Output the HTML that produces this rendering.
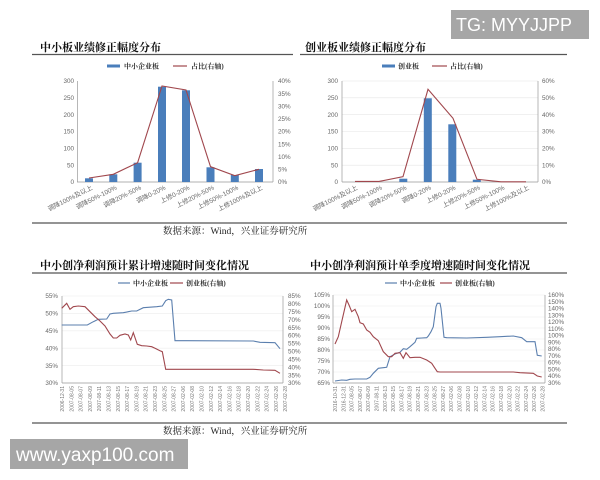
<!DOCTYPE html>
<html><head><meta charset="utf-8"><style>
html,body{margin:0;padding:0;background:#fff;}
svg{display:block;}
.t{font-family:"Liberation Serif","Noto Serif CJK SC",serif;font-weight:bold;font-size:11px;fill:#111;}
.lg{font-family:"Liberation Serif","Noto Serif CJK SC",serif;font-weight:bold;font-size:7px;fill:#333;}
.ax{font-family:"Liberation Sans","Noto Sans CJK SC",sans-serif;font-size:6.3px;fill:#666;}
.cat{font-family:"Liberation Sans","Noto Sans CJK SC",sans-serif;font-size:6.5px;fill:#666;text-anchor:end;}
.dt{font-family:"Liberation Sans",sans-serif;font-size:5px;fill:#777;text-anchor:end;}
.src{font-family:"Liberation Serif","Noto Serif CJK SC",serif;font-size:9.5px;fill:#222;}
</style></head><body>
<svg width="600" height="480" viewBox="0 0 600 480" xmlns="http://www.w3.org/2000/svg">
<rect width="600" height="480" fill="#fff"/>

<!-- ===== Titles & divider lines ===== -->
<text class="t" x="40" y="51">中小板业绩修正幅度分布</text>
<text class="t" x="305" y="51">创业板业绩修正幅度分布</text>
<line x1="32" y1="54.5" x2="293" y2="54.5" stroke="#555" stroke-width="1.3"/>
<line x1="300" y1="54.5" x2="567" y2="54.5" stroke="#555" stroke-width="1.3"/>
<line x1="32" y1="223" x2="567" y2="223" stroke="#555" stroke-width="1.3"/>
<text class="src" x="163" y="234">数据来源：Wind，兴业证券研究所</text>

<text class="t" x="40" y="269">中小创净利润预计累计增速随时间变化情况</text>
<text class="t" x="310" y="269">中小创净利润预计单季度增速随时间变化情况</text>
<line x1="32" y1="273" x2="300" y2="273" stroke="#555" stroke-width="1.3"/>
<line x1="300" y1="273" x2="567" y2="273" stroke="#555" stroke-width="1.3"/>
<line x1="32" y1="423" x2="567" y2="423" stroke="#555" stroke-width="1.3"/>
<text class="src" x="163" y="434">数据来源：Wind，兴业证券研究所</text>

<!-- ===== Chart 1 ===== -->
<rect x="107" y="64.5" width="13" height="3" fill="#4a7ebb"/>
<text class="lg" x="124" y="68.5">中小企业板</text>
<line x1="173" y1="66" x2="187" y2="66" stroke="#a0474d" stroke-width="1.2"/>
<text class="lg" x="191" y="68.5">占比(右轴)</text>

<g class="ax">
<text text-anchor="end" x="74" y="83.2">300</text><text text-anchor="end" x="74" y="100">250</text><text text-anchor="end" x="74" y="116.9">200</text>
<text text-anchor="end" x="74" y="133.7">150</text><text text-anchor="end" x="74" y="150.5">100</text><text text-anchor="end" x="74" y="167.4">50</text><text text-anchor="end" x="74" y="184.2">0</text>
</g>
<g class="ax">
<text x="278" y="83.2">40%</text><text x="278" y="95.8">35%</text><text x="278" y="108.5">30%</text>
<text x="278" y="121.1">25%</text><text x="278" y="133.7">20%</text><text x="278" y="146.3">15%</text>
<text x="278" y="159">10%</text><text x="278" y="171.6">5%</text><text x="278" y="184.2">0%</text>
</g>
<g stroke="#999" stroke-width="0.7">
<line x1="77.5" y1="81" x2="77.5" y2="182"/>
<line x1="273" y1="81" x2="273" y2="182"/>
<line x1="77" y1="182" x2="273" y2="182"/>
</g>
<g fill="#4a7ebb">
<rect x="85" y="178.3" width="8" height="3.7"/>
<rect x="109.3" y="174.3" width="8" height="7.7"/>
<rect x="133.6" y="162.7" width="8" height="19.3"/>
<rect x="158" y="86.7" width="8" height="95.3"/>
<rect x="182" y="90.3" width="8" height="91.7"/>
<rect x="206.5" y="167.3" width="8" height="14.7"/>
<rect x="230.8" y="175" width="8" height="7"/>
<rect x="255" y="169" width="8" height="13"/>
</g>
<polyline fill="none" stroke="#a0474d" stroke-width="1.1" points="89,178 113.3,174.3 137.6,162.7 162,86 186,90 210.5,166.7 234.8,175.7 259,169.3"/>
<g class="cat">
<text text-anchor="end" transform="translate(93,189) rotate(-27)">调降100%及以上</text>
<text text-anchor="end" transform="translate(117.3,189) rotate(-27)">调降50%-100%</text>
<text text-anchor="end" transform="translate(141.6,189) rotate(-27)">调降20%-50%</text>
<text text-anchor="end" transform="translate(166,189) rotate(-27)">调降0-20%</text>
<text text-anchor="end" transform="translate(190,189) rotate(-27)">上修0-20%</text>
<text text-anchor="end" transform="translate(214.5,189) rotate(-27)">上修20%-50%</text>
<text text-anchor="end" transform="translate(238.8,189) rotate(-27)">上修50%-100%</text>
<text text-anchor="end" transform="translate(263,189) rotate(-27)">上修100%及以上</text>
</g>

<!-- ===== Chart 2 ===== -->
<rect x="382" y="64.5" width="13" height="3" fill="#4a7ebb"/>
<text class="lg" x="398" y="68.5">创业板</text>
<line x1="432" y1="66" x2="447" y2="66" stroke="#a0474d" stroke-width="1.2"/>
<text class="lg" x="450" y="68.5">占比(右轴)</text>

<g stroke="#e6e6e6" stroke-width="0.6">
<line x1="342" y1="81" x2="538" y2="81"/><line x1="342" y1="97.8" x2="538" y2="97.8"/>
<line x1="342" y1="114.7" x2="538" y2="114.7"/><line x1="342" y1="131.5" x2="538" y2="131.5"/>
<line x1="342" y1="148.3" x2="538" y2="148.3"/><line x1="342" y1="165.2" x2="538" y2="165.2"/>
</g>
<g class="ax">
<text text-anchor="end" x="338" y="83.2">300</text><text text-anchor="end" x="338" y="100">250</text><text text-anchor="end" x="338" y="116.9">200</text>
<text text-anchor="end" x="338" y="133.7">150</text><text text-anchor="end" x="338" y="150.5">100</text><text text-anchor="end" x="338" y="167.4">50</text><text text-anchor="end" x="338" y="184.2">0</text>
</g>
<g class="ax">
<text x="542" y="83.2">60%</text><text x="542" y="100">50%</text><text x="542" y="116.9">40%</text>
<text x="542" y="133.7">30%</text><text x="542" y="150.5">20%</text><text x="542" y="167.4">10%</text><text x="542" y="184.2">0%</text>
</g>
<g stroke="#999" stroke-width="0.7">
<line x1="342" y1="81" x2="342" y2="182"/>
<line x1="538" y1="81" x2="538" y2="182"/>
<line x1="342" y1="182" x2="538" y2="182"/>
</g>
<g fill="#4a7ebb">
<rect x="399.3" y="178.7" width="8" height="3.3"/>
<rect x="423.8" y="98.3" width="8" height="83.7"/>
<rect x="448.3" y="124.3" width="8" height="57.7"/>
<rect x="472.8" y="179.7" width="8" height="2.3"/>
</g>
<polyline fill="none" stroke="#a0474d" stroke-width="1.1" points="355,181.4 379,181.4 403,176.7 428,89.3 453,118.3 477,179.3 501,181.8 526,181.8"/>
<g class="cat">
<text text-anchor="end" transform="translate(358,189) rotate(-27)">调降100%及以上</text>
<text text-anchor="end" transform="translate(382.5,189) rotate(-27)">调降50%-100%</text>
<text text-anchor="end" transform="translate(407,189) rotate(-27)">调降20%-50%</text>
<text text-anchor="end" transform="translate(431.5,189) rotate(-27)">调降0-20%</text>
<text text-anchor="end" transform="translate(456,189) rotate(-27)">上修0-20%</text>
<text text-anchor="end" transform="translate(480.5,189) rotate(-27)">上修20%-50%</text>
<text text-anchor="end" transform="translate(505,189) rotate(-27)">上修50%-100%</text>
<text text-anchor="end" transform="translate(529.5,189) rotate(-27)">上修100%及以上</text>
</g>

<!-- ===== Chart 3 ===== -->
<line x1="118" y1="283" x2="130" y2="283" stroke="#5b7fae" stroke-width="1.2"/>
<text class="lg" x="133" y="285.5">中小企业板</text>
<line x1="170" y1="283" x2="183" y2="283" stroke="#a0474d" stroke-width="1.2"/>
<text class="lg" x="186" y="285.5">创业板(右轴)</text>

<g stroke="#ececec" stroke-width="0.6">
<line x1="62" y1="296" x2="283" y2="296"/><line x1="62" y1="313.4" x2="283" y2="313.4"/>
<line x1="62" y1="330.8" x2="283" y2="330.8"/><line x1="62" y1="348.2" x2="283" y2="348.2"/>
<line x1="62" y1="365.6" x2="283" y2="365.6"/>
</g>
<g class="ax">
<text text-anchor="end" x="58" y="298.2">55%</text><text text-anchor="end" x="58" y="315.6">50%</text><text text-anchor="end" x="58" y="333">45%</text>
<text text-anchor="end" x="58" y="350.4">40%</text><text text-anchor="end" x="58" y="367.8">35%</text><text text-anchor="end" x="58" y="385.2">30%</text>
</g>
<g class="ax" font-size="5.8">
<text x="288" y="298.2">85%</text><text x="288" y="306.1">80%</text><text x="288" y="314">75%</text>
<text x="288" y="321.9">70%</text><text x="288" y="329.8">65%</text><text x="288" y="337.7">60%</text>
<text x="288" y="345.7">55%</text><text x="288" y="353.6">50%</text><text x="288" y="361.5">45%</text>
<text x="288" y="369.4">40%</text><text x="288" y="377.3">35%</text><text x="288" y="385.2">30%</text>
</g>
<g stroke="#999" stroke-width="0.7">
<line x1="62" y1="296" x2="62" y2="383"/>
<line x1="283" y1="296" x2="283" y2="383"/>
<line x1="62" y1="383" x2="283" y2="383"/>
</g>
<polyline fill="none" stroke="#5b7fae" stroke-width="1.1" points="61.7,325 87.3,325 93.3,321.7 98.3,319.3 106.7,319 110,314 113.3,313.3 123.3,312.7 128.3,311.7 131.7,311 136.7,311 143.3,307.7 156.7,306.7 162.3,306 165.7,300.7 168.3,299.3 171.7,300 175,340.7 186.7,340.7 253.3,341 260,342.3 275,342.7 280,348.7"/>
<polyline fill="none" stroke="#a0474d" stroke-width="1.1" points="61.7,308.3 66.7,303.3 70,309.3 73.3,306.7 78.3,306 85,306.7 90,311.7 95,316.7 100,321 105,326 110,334 113.3,338 116.7,338 120,335.3 125,334 128.3,335 130.7,340 133.3,332.7 137.3,344.3 141.7,345.7 146.7,346 151.7,346.7 155,348.3 160,350.7 162.3,351.7 165.7,369.3 170,369.3 253.3,369.3 263.3,370 275,370.3 280,373.3"/>
<g class="dt">
<text text-anchor="end" transform="translate(64,386) rotate(-90)">2006-12-31</text>
<text text-anchor="end" transform="translate(73.3,386) rotate(-90)">2007-08-05</text>
<text text-anchor="end" transform="translate(82.6,386) rotate(-90)">2007-08-07</text>
<text text-anchor="end" transform="translate(91.9,386) rotate(-90)">2007-08-09</text>
<text text-anchor="end" transform="translate(101.2,386) rotate(-90)">2007-08-11</text>
<text text-anchor="end" transform="translate(110.5,386) rotate(-90)">2007-08-13</text>
<text text-anchor="end" transform="translate(119.8,386) rotate(-90)">2007-08-15</text>
<text text-anchor="end" transform="translate(129.1,386) rotate(-90)">2007-08-17</text>
<text text-anchor="end" transform="translate(138.4,386) rotate(-90)">2007-08-19</text>
<text text-anchor="end" transform="translate(147.7,386) rotate(-90)">2007-08-21</text>
<text text-anchor="end" transform="translate(157,386) rotate(-90)">2007-08-23</text>
<text text-anchor="end" transform="translate(166.3,386) rotate(-90)">2007-08-25</text>
<text text-anchor="end" transform="translate(175.6,386) rotate(-90)">2007-08-27</text>
<text text-anchor="end" transform="translate(184.9,386) rotate(-90)">2007-02-06</text>
<text text-anchor="end" transform="translate(194.2,386) rotate(-90)">2007-02-08</text>
<text text-anchor="end" transform="translate(203.5,386) rotate(-90)">2007-02-10</text>
<text text-anchor="end" transform="translate(212.8,386) rotate(-90)">2007-02-12</text>
<text text-anchor="end" transform="translate(222.1,386) rotate(-90)">2007-02-14</text>
<text text-anchor="end" transform="translate(231.4,386) rotate(-90)">2007-02-16</text>
<text text-anchor="end" transform="translate(240.7,386) rotate(-90)">2007-02-18</text>
<text text-anchor="end" transform="translate(250,386) rotate(-90)">2007-02-20</text>
<text text-anchor="end" transform="translate(259.3,386) rotate(-90)">2007-02-22</text>
<text text-anchor="end" transform="translate(268.6,386) rotate(-90)">2007-02-24</text>
<text text-anchor="end" transform="translate(277.9,386) rotate(-90)">2007-02-26</text>
<text text-anchor="end" transform="translate(287.2,386) rotate(-90)">2007-02-28</text>
</g>

<!-- ===== Chart 4 ===== -->
<line x1="385" y1="283" x2="397" y2="283" stroke="#5b7fae" stroke-width="1.2"/>
<text class="lg" x="400" y="285.5">中小企业板</text>
<line x1="440" y1="283" x2="452" y2="283" stroke="#a0474d" stroke-width="1.2"/>
<text class="lg" x="455" y="285.5">创业板(右轴)</text>

<g stroke="#ececec" stroke-width="0.6">
<line x1="333" y1="295" x2="545" y2="295"/><line x1="333" y1="306" x2="545" y2="306"/>
<line x1="333" y1="317" x2="545" y2="317"/><line x1="333" y1="328" x2="545" y2="328"/>
<line x1="333" y1="339" x2="545" y2="339"/><line x1="333" y1="350" x2="545" y2="350"/>
<line x1="333" y1="361" x2="545" y2="361"/><line x1="333" y1="372" x2="545" y2="372"/>
</g>
<g class="ax" font-size="5.8">
<text text-anchor="end" x="330" y="297">105%</text><text text-anchor="end" x="330" y="308">100%</text><text text-anchor="end" x="330" y="319">95%</text>
<text text-anchor="end" x="330" y="330">90%</text><text text-anchor="end" x="330" y="341">85%</text><text text-anchor="end" x="330" y="352">80%</text>
<text text-anchor="end" x="330" y="363">75%</text><text text-anchor="end" x="330" y="374">70%</text><text text-anchor="end" x="330" y="385">65%</text>
</g>
<g class="ax" font-size="5.5">
<text x="548" y="297">160%</text><text x="548" y="303.8">150%</text><text x="548" y="310.5">140%</text>
<text x="548" y="317.3">130%</text><text x="548" y="324.1">120%</text><text x="548" y="330.8">110%</text>
<text x="548" y="337.6">100%</text><text x="548" y="344.4">90%</text><text x="548" y="351.2">80%</text>
<text x="548" y="357.9">70%</text><text x="548" y="364.7">60%</text><text x="548" y="371.5">50%</text>
<text x="548" y="378.2">40%</text><text x="548" y="385">30%</text>
</g>
<g stroke="#999" stroke-width="0.7">
<line x1="333" y1="295" x2="333" y2="383"/>
<line x1="545" y1="295" x2="545" y2="383"/>
<line x1="333" y1="383" x2="545" y2="383"/>
</g>
<polyline fill="none" stroke="#5b7fae" stroke-width="1.1" points="335,381 341.7,380 346.7,380.3 350,379.3 355,379 366.7,379 370,377.3 373.3,373.3 378.3,368.3 383.3,367.7 386.7,367.3 390,356.7 395,354 400,352.3 403.3,348.7 406.7,349.3 410,346.7 415,342.3 416.7,338.3 421.7,338 426.7,337.7 428.3,336 431,331.7 433.3,326.7 436,306.7 437.3,303.3 440,303.3 441,308.3 444,337.3 446.7,337.7 466.7,338 486.7,337.3 500,336.7 513.3,336 521.7,337.7 526.7,341.7 535,341.7 537.3,355.3 541.7,356"/>
<polyline fill="none" stroke="#a0474d" stroke-width="1.1" points="335,344 338.3,336.7 341.7,321.7 346.7,300 349,305 351.7,311.7 355,309.3 358.3,316.7 360,322.7 363.3,324 366.7,330 370,332.3 373.3,336.7 378.3,340.7 383.3,351.7 388.3,356.7 391.7,356.7 395,353.3 400,352.7 403.3,358.3 406,352.7 410,357.7 415,357.3 420,357.3 426.7,360 431.7,363.3 435,368.3 437.3,371.7 440,372 513.3,372 520,372.7 533.3,373.3 537.3,376 541.7,377"/>
<g class="dt">
<text text-anchor="end" transform="translate(337,386) rotate(-90)">2016-10-31</text>
<text text-anchor="end" transform="translate(345.3,386) rotate(-90)">2016-12-31</text>
<text text-anchor="end" transform="translate(353.6,386) rotate(-90)">2007-08-05</text>
<text text-anchor="end" transform="translate(361.9,386) rotate(-90)">2007-08-07</text>
<text text-anchor="end" transform="translate(370.2,386) rotate(-90)">2007-08-09</text>
<text text-anchor="end" transform="translate(378.5,386) rotate(-90)">2007-08-11</text>
<text text-anchor="end" transform="translate(386.8,386) rotate(-90)">2007-08-13</text>
<text text-anchor="end" transform="translate(395.1,386) rotate(-90)">2007-08-15</text>
<text text-anchor="end" transform="translate(403.4,386) rotate(-90)">2007-08-17</text>
<text text-anchor="end" transform="translate(411.7,386) rotate(-90)">2007-08-19</text>
<text text-anchor="end" transform="translate(420,386) rotate(-90)">2007-08-21</text>
<text text-anchor="end" transform="translate(428.3,386) rotate(-90)">2007-08-23</text>
<text text-anchor="end" transform="translate(436.6,386) rotate(-90)">2007-08-25</text>
<text text-anchor="end" transform="translate(444.9,386) rotate(-90)">2007-08-27</text>
<text text-anchor="end" transform="translate(453.2,386) rotate(-90)">2007-02-06</text>
<text text-anchor="end" transform="translate(461.5,386) rotate(-90)">2007-02-08</text>
<text text-anchor="end" transform="translate(469.8,386) rotate(-90)">2007-02-10</text>
<text text-anchor="end" transform="translate(478.1,386) rotate(-90)">2007-02-12</text>
<text text-anchor="end" transform="translate(486.4,386) rotate(-90)">2007-02-14</text>
<text text-anchor="end" transform="translate(494.7,386) rotate(-90)">2007-02-16</text>
<text text-anchor="end" transform="translate(503,386) rotate(-90)">2007-02-18</text>
<text text-anchor="end" transform="translate(511.3,386) rotate(-90)">2007-02-20</text>
<text text-anchor="end" transform="translate(519.6,386) rotate(-90)">2007-02-22</text>
<text text-anchor="end" transform="translate(527.9,386) rotate(-90)">2007-02-24</text>
<text text-anchor="end" transform="translate(536.2,386) rotate(-90)">2007-02-26</text>
<text text-anchor="end" transform="translate(544.5,386) rotate(-90)">2007-02-28</text>
</g>

<!-- ===== Watermarks ===== -->
<rect x="451" y="10" width="138" height="29" fill="#a6a6a6"/>
<text x="456" y="31" font-family="Liberation Sans, sans-serif" font-size="18" fill="#fff">TG: MYYJJPP</text>
<rect x="10" y="439" width="178" height="30" fill="#a6a6a6"/>
<text x="16" y="461" font-family="Liberation Sans, sans-serif" font-size="19" fill="#fff">www.yaxp100.com</text>
</svg>
</body></html>
